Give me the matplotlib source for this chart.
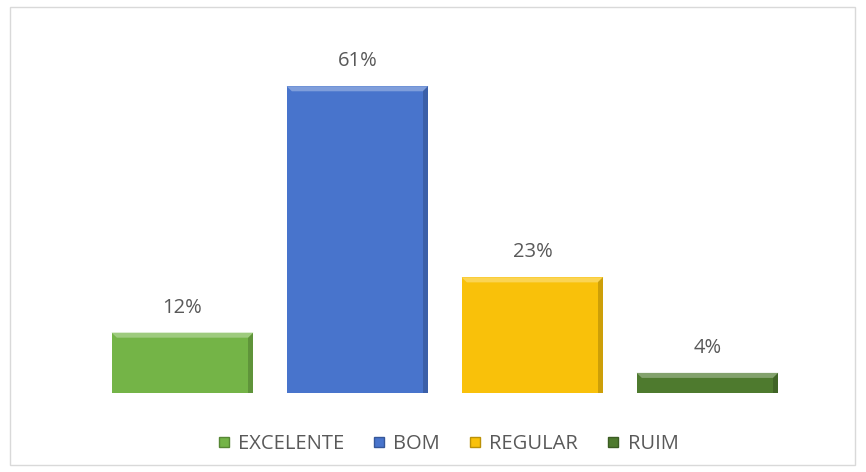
import matplotlib.pyplot as plt
from matplotlib.patches import Rectangle, Polygon
from matplotlib.lines import Line2D
import matplotlib.colors as mcolors

categories = ["EXCELENTE", "BOM", "REGULAR", "RUIM"]
values = [12, 61, 23, 4]
colors = ["#74B447", "#4874CC", "#F9C10A", "#4E7A2E"]

plt.rcParams['font.family'] = ['Open Sans', 'DejaVu Sans']

W, H = 866, 472
fig = plt.figure(figsize=(W / 100, H / 100), dpi=100)

# light frame around the chart area
fig.patches.append(Rectangle((10 / W, 7 / H), 845 / W, 458 / H, transform=fig.transFigure,
                             fill=False, edgecolor="#D9D9D9", linewidth=1))

ax = fig.add_axes([95 / W, (H - 393) / H, 700 / W, 352 / H])
x = range(len(categories))
bars = ax.bar(x, values, width=0.81, color=colors, edgecolor="none")

# small bevel: lighter top strip, darker right strip
for b, c, v in zip(bars, colors, values):
    x0, y0 = b.get_x(), b.get_y()
    w, h = b.get_width(), b.get_height()
    bw = 0.03
    bh = min(1.0, h * 0.3)
    rgb = mcolors.to_rgb(c)
    light = tuple(k + (1 - k) * 0.3 for k in rgb)
    dark = tuple(k * 0.75 for k in rgb)
    ax.add_patch(Polygon([(x0, y0 + h), (x0 + w, y0 + h), (x0 + w - bw, y0 + h - bh),
                          (x0 + bw, y0 + h - bh)], closed=True, facecolor=light, edgecolor="none"))
    ax.add_patch(Polygon([(x0 + w, y0 + h), (x0 + w, y0), (x0 + w - bw, y0),
                          (x0 + w - bw, y0 + h - bh)], closed=True, facecolor=dark,
                         edgecolor="none", alpha=0.7))
    ax.text(x0 + w / 2, h + 5.0, f"{v}%", ha="center", va="center",
            fontsize=14.5, color="#595959")

ax.set_xlim(-0.5, 3.5)
ax.set_ylim(0, 70)
ax.axis("off")

handles = [Line2D([], [], marker="s", linestyle="none", markersize=7.2, markerfacecolor=c,
                  markeredgecolor=tuple(k * 0.75 for k in mcolors.to_rgb(c))) for c in colors]
fig.legend(handles, categories, loc="center", bbox_to_anchor=(448 / W, (H - 444) / H), ncol=4,
           frameon=False, fontsize=14.5, labelcolor="#595959", handletextpad=0.4,
           columnspacing=1.45, handlelength=0.6)

fig.savefig("out.png", dpi=100)
